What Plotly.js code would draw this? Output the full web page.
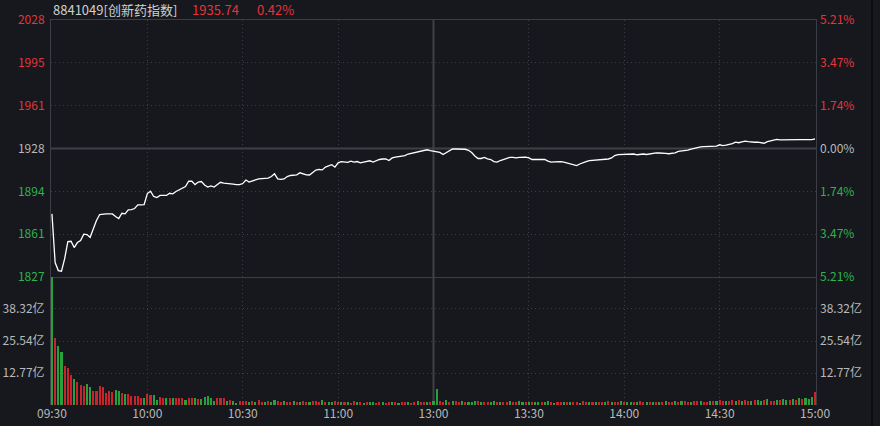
<!DOCTYPE html>
<html>
<head>
<meta charset="utf-8">
<script src="https://cdn.plot.ly/plotly-3.0.1.min.js"></script>
<style>
  html, body { margin: 0; padding: 0; background: #16181d; }
  #chart { width: 880px; height: 426px; }
</style>
</head>
<body>
<div id="chart"></div>
<script>
// ---- data ----
const indexCode = '8841049[创新药指数]';
const lastPrice = '1935.74';
const lastPct = '0.42%';
const prevClose = 1927.6;

const timeLabels = ['09:30', '10:00', '10:30', '11:00', '13:00', '13:30', '14:00', '14:30', '15:00'];
const timeTickIdx = [0, 30, 60, 90, 120, 150, 180, 210, 240];

const priceTickText = ['1827', '1861', '1894', '1928', '1961', '1995', '2028'];
const priceTickPct = [-5.21, -3.47, -1.74, 0, 1.74, 3.47, 5.21];
const pctTickText = ['5.21%', '3.47%', '1.74%', '0.00%', '1.74%', '3.47%', '5.21%'];

const volMax = 51.09;
const volTicks = [12.77, 25.54, 38.32];
const volTickText = ['12.77亿', '25.54亿', '38.32亿'];

// one price per minute, 09:30 .. 11:30 / 13:00 .. 15:00 (241 points)
const price = [
  1876.5, 1838.5, 1832.2, 1831.7, 1841.6, 1854.9, 1855.1, 1850.2, 1854.1, 1855.7,
  1860.7, 1860.3, 1858.2, 1865.0, 1871.3, 1876.0, 1876.5, 1876.5, 1876.5, 1876.5,
  1874.4, 1872.9, 1877.0, 1876.5, 1879.7, 1879.9, 1880.7, 1883.6, 1883.6, 1883.8,
  1892.4, 1894.2, 1890.1, 1889.3, 1890.9, 1890.9, 1890.9, 1892.6, 1892.2, 1894.0,
  1895.3, 1896.7, 1897.9, 1902.0, 1902.0, 1899.4, 1901.4, 1901.8, 1899.1, 1897.5,
  1898.4, 1897.5, 1899.1, 1901.2, 1900.6, 1900.5, 1900.0, 1899.8, 1899.4, 1899.4,
  1900.2, 1903.0, 1901.4, 1902.2, 1903.4, 1903.9, 1904.1, 1904.4, 1904.4, 1905.7,
  1907.8, 1903.9, 1903.4, 1903.8, 1905.7, 1906.5, 1906.9, 1907.0, 1908.6, 1907.6,
  1907.0, 1906.9, 1909.1, 1910.8, 1911.2, 1910.9, 1913.1, 1914.3, 1914.9, 1913.0,
  1916.4, 1917.4, 1917.0, 1916.7, 1917.7, 1916.9, 1917.4, 1916.4, 1917.0, 1917.8,
  1918.0, 1917.0, 1918.2, 1919.0, 1919.4, 1919.4, 1918.2, 1920.2, 1920.8, 1921.2,
  1921.3, 1922.1, 1923.3, 1923.9, 1924.2, 1924.7, 1925.6, 1926.3, 1926.6, 1926.0,
  1925.6, 1925.0, 1924.5, 1922.9, 1924.5, 1925.6, 1927.2, 1927.2, 1927.1, 1927.4,
  1927.0, 1926.2, 1924.5, 1921.7, 1919.8, 1919.8, 1920.6, 1919.5, 1919.0, 1917.4,
  1917.0, 1918.2, 1919.2, 1920.3, 1920.7, 1920.6, 1920.3, 1920.6, 1920.8, 1920.8,
  1920.2, 1919.0, 1919.0, 1919.0, 1919.0, 1919.0, 1917.8, 1917.0, 1917.2, 1917.4,
  1917.4, 1917.0, 1916.4, 1915.9, 1915.1, 1914.3, 1915.5, 1916.7, 1917.4, 1918.2,
  1918.4, 1918.8, 1918.8, 1918.8, 1919.0, 1919.4, 1920.2, 1922.1, 1922.8, 1922.9,
  1923.3, 1923.3, 1923.5, 1923.3, 1922.7, 1922.9, 1923.3, 1922.9, 1923.3, 1923.9,
  1924.1, 1924.1, 1924.2, 1923.8, 1923.5, 1923.8, 1924.2, 1925.3, 1925.6, 1926.0,
  1926.4, 1927.1, 1927.6, 1928.6, 1928.8, 1929.0, 1929.2, 1929.2, 1929.3, 1929.4,
  1930.5, 1929.9, 1930.2, 1930.7, 1931.5, 1932.5, 1932.1, 1932.7, 1933.3, 1932.9,
  1932.5, 1932.5, 1932.5, 1932.3, 1931.7, 1932.9, 1933.5, 1934.2, 1934.7, 1934.4,
  1934.5, 1934.5, 1934.5, 1934.5, 1934.5, 1934.5, 1934.5, 1934.5, 1934.5, 1934.6,
  1935.2
];

// volume per minute in 亿
const volume = [
  51.0, 26.6, 23.5, 21.3, 15.6, 14.6, 12.0, 10.4, 9.3, 8.0,
  7.6, 8.4, 7.3, 5.7, 5.7, 7.6, 7.0, 4.7, 5.7, 5.0,
  6.0, 5.7, 4.7, 4.3, 4.4, 3.6, 3.4, 3.6, 2.8, 2.6,
  4.2, 3.9, 4.0, 2.1, 3.1, 2.8, 2.7, 2.7, 2.9, 2.7,
  2.8, 2.9, 1.9, 2.7, 2.7, 2.9, 2.5, 2.3, 3.1, 3.4,
  2.9, 1.7, 2.7, 2.9, 2.9, 1.7, 2.1, 1.7, 0.9, 1.6,
  1.6, 1.6, 1.3,
  1.4, 1.2, 1.8, 1.1, 1.3, 1.6, 1.0, 2.0, 1.5, 1.2,
  1.4, 1.1, 1.3, 1.7, 1.2, 1.0, 1.5, 1.3, 1.1, 1.6,
  1.4, 1.2, 1.8, 1.3, 1.1, 1.2, 1.5, 1.3, 1.1, 1.0,
  1.2, 0.9, 1.4, 1.1, 1.0, 0.8, 1.2, 1.3, 1.0, 0.9,
  1.1, 1.2, 0.8, 1.0, 1.3, 1.1, 0.9, 1.0, 1.2, 1.1,
  0.8, 1.0, 1.4, 1.2, 1.1, 1.3, 1.0, 1.5, 6.3, 1.6,
  1.3, 1.8, 1.2, 1.5, 1.4, 1.1, 1.6, 1.3, 1.2, 1.0,
  1.4, 1.5, 1.1, 1.3, 1.2, 1.0, 1.4, 1.1, 1.2, 1.3,
  1.0, 1.5, 1.1, 1.2, 1.4, 1.0, 1.2, 1.3, 1.1, 1.0,
  1.3, 1.2, 1.0, 1.4, 1.1, 0.9, 1.2, 1.0, 1.1, 1.3,
  1.0, 1.2, 1.1, 0.9, 1.4, 1.2, 1.0, 1.1, 1.3, 1.2,
  1.0, 1.1, 1.4, 1.2, 1.0, 1.3, 1.5, 1.2, 1.1, 1.3,
  1.0, 1.2, 1.4, 1.1, 1.0, 1.3, 1.2, 1.1, 1.0, 1.2,
  1.4, 1.1, 1.3, 1.5, 1.2, 1.4, 1.6, 1.3, 1.1, 1.5,
  1.7, 1.4, 1.2, 1.3, 1.6, 1.4, 1.5, 1.8, 1.6, 1.4,
  1.7, 2.0, 1.5, 1.8, 1.6, 1.9, 1.4, 1.7, 2.1, 1.8,
  1.5, 1.9, 2.2, 1.7, 1.6, 2.0, 1.8, 2.3, 1.9, 2.1,
  2.4, 2.0, 2.6, 2.3, 2.8, 2.5, 3.1, 5.3
];

// R = up bar, G = down bar
const volDir = (
  'GRGGRRRGRR' + 'RGGRRRRRRR' + 'GGRGRRRRRG' + 'RRGGRRGRGR' + 'RRGRRGRGGG' + 'GGRRRGRGGR' + 'RRG' +
  'RGRRGRGGRR' + 'GRRGRGRRGR' + 'RRGRGGRRGR' + 'GRRGRGRGGR' + 'RGRRGRGRRG' +
  'RRGRRGRGGR' + 'RGRGRRGRGG' + 'GRGRRGGRGR' + 'RGRRGGRGRG' + 'GRGGRGRRGR' +
  'GRRGRRGRGR' + 'RGRGRRGRGG' + 'RGRRGRGRGR' + 'GRRGRGRRGR' + 'RGRRGRGRRG' +
  'RRGRGRRGRG' + 'GRGRRGRGGR' + 'GRGRGGGR'
).split('');

// ---- styling ----
const BG = '#16181d';
const RED_TXT = '#e5343c';
const GREEN_TXT = '#2fb34c';
const GRAY_TXT = '#b9b9b9';
const RED_BAR = '#c9242e';
const GREEN_BAR = '#28a03b';
const GRID = '#3a3d44';
const FRAME = '#3b3e45';
const DOTS = '1px,3px';
const FONT = 'Noto Sans CJK SC, Noto Sans, sans-serif';

const minuteIdx = price.map((_, i) => i);
const volIdx = volume.map((_, i) => i);
const pctColor = p => p > 0 ? RED_TXT : (p < 0 ? GREEN_TXT : GRAY_TXT);

const priceTickVals = priceTickPct.map(p => prevClose * (1 + p / 100));
const priceText = priceTickText.map((t, i) => `<span style="color:${pctColor(priceTickPct[i])}">${t}</span>`);
const pctText = pctTickText.map((t, i) => `<span style="color:${pctColor(priceTickPct[i])}">${t}</span>`);

const lo = priceTickVals[0], hi = priceTickVals[priceTickVals.length - 1];
const eps = (hi - lo) * 1e-5;
const priceRange = [lo - eps, hi + eps];
const volDomainTop = 128 / 385;

// slight padding so the first and last minute bars are fully visible
const xPad = 0.3;
const xRange = [timeTickIdx[0] - xPad, timeTickIdx[timeTickIdx.length - 1] + xPad];
const innerTicks = timeTickIdx.slice(1, -1);

const traces = [
  {
    x: minuteIdx, y: price, type: 'scatter', mode: 'lines',
    line: { color: '#ffffff', width: 1.3 },
    xaxis: 'x', yaxis: 'y', hoverinfo: 'skip'
  },
  {
    x: [null], y: [null], type: 'scatter', mode: 'lines',
    xaxis: 'x', yaxis: 'y2', hoverinfo: 'skip', showlegend: false
  },
  {
    x: volIdx, y: volume, type: 'bar', width: 0.65,
    marker: { color: volDir.map(d => d === 'R' ? RED_BAR : GREEN_BAR), line: { width: 0 } },
    xaxis: 'x2', yaxis: 'y3', hoverinfo: 'skip'
  },
  {
    x: [null], y: [null], type: 'scatter', mode: 'lines',
    xaxis: 'x2', yaxis: 'y4', hoverinfo: 'skip', showlegend: false
  },
  {
    x: [null], y: [null], type: 'scatter', mode: 'lines',
    xaxis: 'x3', yaxis: 'y3', hoverinfo: 'skip', showlegend: false
  }
];

const gridX = {
  range: xRange, tickmode: 'array', tickvals: innerTicks,
  showgrid: true, gridcolor: GRID, griddash: DOTS, gridwidth: 1,
  showticklabels: false, zeroline: false, ticks: '', fixedrange: true
};

const layout = {
  width: 880, height: 426,
  paper_bgcolor: BG, plot_bgcolor: BG,
  margin: { l: 51, r: 64, t: 20, b: 21, pad: 0 },
  showlegend: false,
  bargap: 0,
  font: { family: FONT, size: 12, color: GRAY_TXT },
  xaxis: Object.assign({}, gridX, {
    domain: [0, 1], anchor: 'y',
    showline: true, mirror: true, linecolor: FRAME, linewidth: 1
  }),
  xaxis2: Object.assign({}, gridX, {
    domain: [0, 1], anchor: 'y3', showline: false
  }),
  xaxis3: {
    overlaying: 'x2', anchor: 'y3', range: xRange,
    tickmode: 'array', tickvals: timeTickIdx, ticktext: timeLabels,
    showgrid: false, zeroline: false, ticks: '', showline: false,
    tickfont: { family: FONT, size: 12, color: GRAY_TXT }, fixedrange: true
  },
  yaxis: {
    domain: [volDomainTop, 1], range: priceRange, anchor: 'x',
    tickmode: 'array', tickvals: priceTickVals, ticktext: priceText,
    showgrid: true, gridcolor: GRID, griddash: DOTS, gridwidth: 1,
    zeroline: false, ticks: '', ticklabelstandoff: 3,
    showline: true, mirror: true, linecolor: FRAME, linewidth: 1,
    tickfont: { family: FONT, size: 12 }, fixedrange: true
  },
  yaxis2: {
    overlaying: 'y', side: 'right', range: priceRange, anchor: 'x',
    tickmode: 'array', tickvals: priceTickVals, ticktext: pctText,
    showgrid: false, zeroline: false, ticks: '', ticklabelstandoff: 3,
    tickfont: { family: FONT, size: 12 }, fixedrange: true
  },
  yaxis3: {
    domain: [0, volDomainTop], range: [0, volMax], anchor: 'x2',
    tickmode: 'array', tickvals: volTicks, ticktext: volTickText,
    showgrid: true, gridcolor: GRID, griddash: DOTS, gridwidth: 1,
    zeroline: false, ticks: '', ticklabelstandoff: 3,
    showline: true, mirror: true, linecolor: FRAME, linewidth: 1,
    layer: 'below traces',
    tickfont: { family: FONT, size: 12, color: GRAY_TXT }, fixedrange: true
  },
  yaxis4: {
    overlaying: 'y3', side: 'right', range: [0, volMax], anchor: 'x2',
    tickmode: 'array', tickvals: volTicks, ticktext: volTickText,
    showgrid: false, zeroline: false, ticks: '', ticklabelstandoff: 3,
    tickfont: { family: FONT, size: 12, color: GRAY_TXT }, fixedrange: true
  },
  shapes: [
    { type: 'line', layer: 'below', xref: 'paper', x0: 0, x1: 1, yref: 'y', y0: prevClose, y1: prevClose,
      line: { color: '#3e4148', width: 2 } },
    { type: 'line', layer: 'below', xref: 'x', x0: timeTickIdx[4], x1: timeTickIdx[4], yref: 'paper', y0: 0, y1: 1,
      line: { color: '#3e4148', width: 2 } },
    { type: 'line', layer: 'above', xref: 'paper', x0: 821 / 765, x1: 821 / 765, yref: 'paper', y0: -21 / 385, y1: 1 + 20 / 385,
      line: { color: '#0c0d10', width: 2 } }
  ],
  annotations: [
    { xref: 'paper', yref: 'paper', x: 0, y: 1 + 10 / 385, xanchor: 'left', yanchor: 'middle', showarrow: false,
      text: indexCode, font: { family: FONT, size: 13, color: '#d0d0d0' } },
    { xref: 'paper', yref: 'paper', x: 139 / 765, y: 1 + 10 / 385, xanchor: 'left', yanchor: 'middle', showarrow: false,
      text: lastPrice, font: { family: FONT, size: 13, color: RED_TXT } },
    { xref: 'paper', yref: 'paper', x: 204 / 765, y: 1 + 10 / 385, xanchor: 'left', yanchor: 'middle', showarrow: false,
      text: lastPct, font: { family: FONT, size: 13, color: RED_TXT } }
  ]
};

Plotly.newPlot('chart', traces, layout, { staticPlot: true, displayModeBar: false });
</script>
</body>
</html>
